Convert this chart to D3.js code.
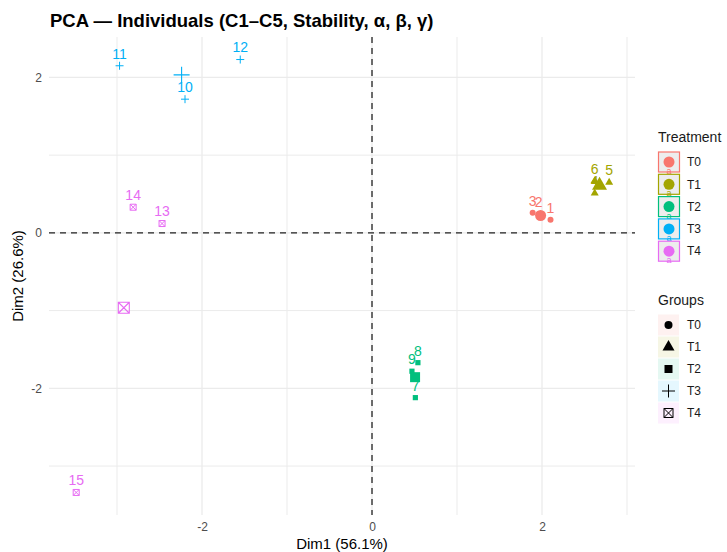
<!DOCTYPE html>
<html>
<head>
<meta charset="utf-8">
<script src="https://cdn.jsdelivr.net/npm/d3@7"></script>
<style>
  body { margin: 0; background: #fff; }
  text { font-family: "Liberation Sans", Arial, sans-serif; }
</style>
</head>
<body>
<div id="chart-area"></div>
<script>
// individuals
let ids = ["1", "2", "3", "4", "5", "6", "7", "8", "9", "10", "11", "12", "13", "14", "15"];
let group = ["T0", "T0", "T0", "T1", "T1", "T1", "T2", "T2", "T2", "T3", "T3", "T3", "T4", "T4", "T4"];
let dim1 = [2.10, 1.96, 1.89, 2.62, 2.79, 2.62, 0.51, 0.54, 0.47, -2.20, -2.97, -1.55, -2.47, -2.81, -3.48];
let dim2 = [0.17, 0.24, 0.26, 0.51, 0.65, 0.67, -2.12, -1.67, -1.78, 1.72, 2.15, 2.23, 0.12, 0.33, -3.34];

let treatments = ["T0", "T1", "T2", "T3", "T4"];
let shapes = ["circle", "triangle", "square", "plus", "squarex"];
let colors = ["#F8766D", "#A3A500", "#00BF7D", "#00B0F6", "#E76BF3"];
let ticks = [-2, 0, 2];
let minorX = [-3, -1, 1, 3];
let minorY = [-3, -1, 1];

let W = 727, H = 552;
let panel = { left: 49, right: 635, top: 37, bottom: 515 };

let svg = d3.select("#chart-area").append("svg")
  .attr("width", W)
  .attr("height", H);

let x = d3.scaleLinear().domain([-3.8, 3.094]).range([panel.left, panel.right]);
let y = d3.scaleLinear().domain([-3.63, 2.52]).range([panel.bottom, panel.top]);

let color = d3.scaleOrdinal().domain(treatments).range(colors);
let shapeOf = d3.scaleOrdinal().domain(treatments).range(shapes);

// path for a marker centred on 0,0 ; s = half size
function shapePath(type, s) {
  if (type == "circle") {
    return "M" + (-s) + ",0a" + s + "," + s + " 0 1,0 " + (2 * s) + ",0a" + s + "," + s + " 0 1,0 " + (-2 * s) + ",0Z";
  }
  if (type == "triangle") {
    let h = s * Math.sqrt(3);
    return "M0," + (-h * 2 / 3) + "L" + s + "," + (h / 3) + "L" + (-s) + "," + (h / 3) + "Z";
  }
  if (type == "square") {
    return "M" + (-s) + "," + (-s) + "h" + (2 * s) + "v" + (2 * s) + "h" + (-2 * s) + "Z";
  }
  if (type == "plus") {
    return "M" + (-s) + ",0h" + (2 * s) + "M0," + (-s) + "v" + (2 * s);
  }
  // square with a cross
  return "M" + (-s) + "," + (-s) + "h" + (2 * s) + "v" + (2 * s) + "h" + (-2 * s) + "Z" +
    "M" + (-s) + "," + (-s) + "L" + s + "," + s + "M" + s + "," + (-s) + "L" + (-s) + "," + s;
}
let filled = { circle: true, triangle: true, square: true, plus: false, squarex: false };
let smallSize = { circle: 3, triangle: 4, square: 2.6, plus: 4, squarex: 3 };
let bigSize = { circle: 5.5, triangle: 7.5, square: 5, plus: 8, squarex: 5.5 };

function drawMark(g, type, s, col, sw) {
  g.append("path")
    .attr("d", shapePath(type, s))
    .attr("fill", filled[type] ? col : "none")
    .attr("stroke", col)
    .attr("stroke-width", filled[type] ? 0 : sw);
}

// grid
let grid = svg.append("g");
grid.selectAll(".minx").data(minorX).enter().append("line")
  .attr("x1", d => x(d)).attr("x2", d => x(d))
  .attr("y1", panel.top).attr("y2", panel.bottom)
  .attr("stroke", "#EBEBEB").attr("stroke-width", 1);
grid.selectAll(".miny").data(minorY).enter().append("line")
  .attr("y1", d => y(d)).attr("y2", d => y(d))
  .attr("x1", panel.left).attr("x2", panel.right)
  .attr("stroke", "#EBEBEB").attr("stroke-width", 1);
grid.selectAll(".majx").data(ticks).enter().append("line")
  .attr("x1", d => x(d)).attr("x2", d => x(d))
  .attr("y1", panel.top).attr("y2", panel.bottom)
  .attr("stroke", "#EBEBEB").attr("stroke-width", 1.3);
grid.selectAll(".majy").data(ticks).enter().append("line")
  .attr("y1", d => y(d)).attr("y2", d => y(d))
  .attr("x1", panel.left).attr("x2", panel.right)
  .attr("stroke", "#EBEBEB").attr("stroke-width", 1.3);

// axes (no lines, just labels) ; plain hyphen minus like the reference
let axisBottom = d3.axisBottom(x).tickValues(ticks).tickSize(0).tickPadding(7).tickFormat(d => String(d));
let gx = svg.append("g")
  .attr("transform", "translate(0," + panel.bottom + ")")
  .call(axisBottom);
let axisLeft = d3.axisLeft(y).tickValues(ticks).tickSize(0).tickPadding(7).tickFormat(d => String(d));
let gy = svg.append("g")
  .attr("transform", "translate(" + panel.left + ",0)")
  .call(axisLeft);
[gx, gy].forEach(g => {
  g.select(".domain").remove();
  g.selectAll("text")
    .attr("font-size", "12px")
    .attr("fill", "#4D4D4D")
    .attr("font-family", "Liberation Sans, Arial, sans-serif");
});

// zero lines
svg.append("line")
  .attr("x1", x(0)).attr("x2", x(0))
  .attr("y1", panel.top).attr("y2", panel.bottom)
  .attr("stroke", "#222").attr("stroke-width", 1.3)
  .attr("stroke-dasharray", "6,5");
svg.append("line")
  .attr("x1", panel.left).attr("x2", panel.right)
  .attr("y1", y(0)).attr("y2", y(0))
  .attr("stroke", "#222").attr("stroke-width", 1.3)
  .attr("stroke-dasharray", "6,5");

// individuals
let data = ids.map((id, i) => ({ id: id, g: group[i], x: dim1[i], y: dim2[i] }));

let pts = svg.append("g");
data.forEach(d => {
  let g = pts.append("g").attr("transform", "translate(" + x(d.x) + "," + y(d.y) + ")");
  drawMark(g, shapeOf(d.g), smallSize[shapeOf(d.g)], color(d.g), 1);
});

svg.append("g").selectAll("text").data(data).enter().append("text")
  .attr("x", d => x(d.x))
  .attr("y", d => y(d.y) - 12)
  .attr("dy", "0.35em")
  .attr("text-anchor", "middle")
  .attr("font-size", "14px")
  .attr("fill", d => color(d.g))
  .text(d => d.id);

// group means
let cents = svg.append("g");
treatments.forEach(t => {
  let sub = data.filter(d => d.g == t);
  let mx = d3.mean(sub, d => d.x), my = d3.mean(sub, d => d.y);
  let g = cents.append("g").attr("transform", "translate(" + x(mx) + "," + y(my) + ")");
  drawMark(g, shapeOf(t), bigSize[shapeOf(t)], color(t), 1.1);
});

// titles
svg.append("text")
  .attr("x", 50).attr("y", 27)
  .attr("font-size", "18.5px")
  .attr("font-weight", "bold")
  .attr("fill", "#000")
  .text("PCA — Individuals (C1–C5, Stability, α, β, γ)");

svg.append("text")
  .attr("x", (panel.left + panel.right) / 2)
  .attr("y", 549)
  .attr("text-anchor", "middle")
  .attr("font-size", "15px")
  .attr("fill", "#000")
  .text("Dim1 (56.1%)");

svg.append("text")
  .attr("transform", "translate(23," + ((panel.top + panel.bottom) / 2) + ") rotate(-90)")
  .attr("text-anchor", "middle")
  .attr("font-size", "15px")
  .attr("fill", "#000")
  .text("Dim2 (26.6%)");

// legend: Treatment
let leg1 = svg.append("g").attr("transform", "translate(658,0)");
leg1.append("text").attr("x", 0).attr("y", 142)
  .attr("font-size", "14px").attr("fill", "#1A1A1A").text("Treatment");
treatments.forEach((t, i) => {
  let cy = 162 + i * 22.3;
  leg1.append("rect")
    .attr("x", 0.5).attr("y", cy - 10).attr("width", 21).attr("height", 20)
    .attr("fill", "#EDEDED").attr("stroke", color(t)).attr("stroke-width", 1.2);
  leg1.append("circle").attr("cx", 11).attr("cy", cy).attr("r", 5.5).attr("fill", color(t));
  leg1.append("text").attr("x", 11).attr("y", cy + 12)
    .attr("text-anchor", "middle").attr("font-size", "9px").attr("fill", color(t)).text("a");
  leg1.append("text").attr("x", 29).attr("y", cy).attr("dy", "0.35em")
    .attr("font-size", "12px").attr("fill", "#1A1A1A").text(t);
});

// legend: Groups
let leg2 = svg.append("g").attr("transform", "translate(658,0)");
leg2.append("text").attr("x", 0).attr("y", 305)
  .attr("font-size", "14px").attr("fill", "#1A1A1A").text("Groups");
treatments.forEach((t, i) => {
  let cy = 325 + i * 22;
  leg2.append("rect")
    .attr("x", 0).attr("y", cy - 10.5).attr("width", 21).attr("height", 21)
    .attr("fill", color(t)).attr("fill-opacity", 0.1);
  let g = leg2.append("g").attr("transform", "translate(10.5," + cy + ")");
  let sz = { circle: 4, triangle: 6, square: 4, plus: 6.5, squarex: 4.5 };
  drawMark(g, shapeOf(t), sz[shapeOf(t)], "#000", 1);
  leg2.append("text").attr("x", 29).attr("y", cy).attr("dy", "0.35em")
    .attr("font-size", "12px").attr("fill", "#1A1A1A").text(t);
});
</script>
</body>
</html>
